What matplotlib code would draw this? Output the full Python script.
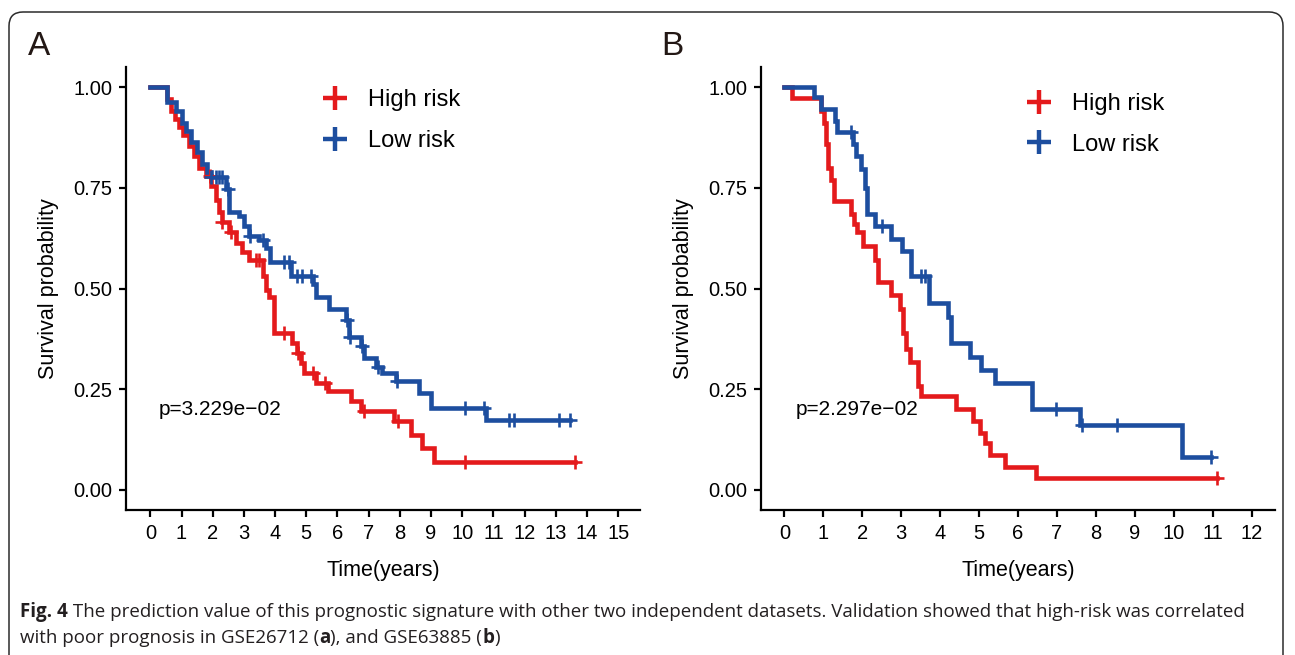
import numpy as np
import matplotlib
matplotlib.use("Agg")
import matplotlib.pyplot as plt
from matplotlib.lines import Line2D
from matplotlib.patches import FancyBboxPatch
from matplotlib.transforms import IdentityTransform

# ---------------- data ----------------
# Panel A (GSE26712)
a_high_t = [0, 0.55, 0.65, 0.8, 0.93, 1.05, 1.25, 1.4, 1.57, 1.8, 1.95, 2.1, 2.2, 2.3, 2.53,
            2.75, 2.95, 3.17, 3.6, 3.7, 3.8, 3.95, 4.55, 4.7, 4.83, 4.94, 5.3, 5.7, 6.45, 6.77,
            7.8, 8.36, 8.7, 9.1]
a_high_s = [1.0, 0.97, 0.94, 0.92, 0.90, 0.88, 0.853, 0.83, 0.80, 0.78, 0.755, 0.72, 0.69, 0.665,
            0.64, 0.614, 0.59, 0.572, 0.53, 0.497, 0.48, 0.39, 0.365, 0.34, 0.315, 0.29, 0.265,
            0.245, 0.22, 0.195, 0.17, 0.137, 0.105, 0.07]
a_high_end = 13.6
a_high_cens = [1.9, 2.3, 2.6, 3.4, 3.5, 4.3, 4.75, 5.2, 5.6, 6.85, 7.95, 10.1, 13.6]

a_low_t = [0, 0.55, 0.83, 1.0, 1.15, 1.3, 1.5, 1.67, 1.83, 1.95, 2.43, 2.53, 2.85, 3.0, 3.17,
           3.5, 3.7, 3.85, 4.5, 5.2, 5.31, 5.74, 6.27, 6.38, 6.75, 6.86, 7.23, 7.44, 7.87, 8.62,
           9.0, 10.76]
a_low_s = [1.0, 0.963, 0.94, 0.91, 0.89, 0.863, 0.84, 0.81, 0.79, 0.776, 0.746, 0.69, 0.68,
           0.655, 0.63, 0.62, 0.60, 0.565, 0.53, 0.51, 0.48, 0.448, 0.423, 0.38, 0.356, 0.328,
           0.306, 0.29, 0.27, 0.24, 0.204, 0.174]
a_low_end = 13.45
a_low_cens = [1.95, 2.1, 2.2, 2.3, 2.5, 3.2, 3.6, 4.3, 4.45, 4.7, 4.85, 5.15, 6.3, 6.4, 6.8,
              7.3, 7.9, 10.1, 10.7, 11.5, 11.65, 13.1, 13.45]

# Panel B (GSE63885)
b_high_t = [0, 0.2, 0.95, 1.02, 1.08, 1.13, 1.2, 1.28, 1.7, 1.8, 1.87, 2.03, 2.33, 2.41, 2.74,
            2.97, 3.05, 3.13, 3.23, 3.43, 3.52, 4.4, 4.85, 5.02, 5.15, 5.28, 5.66, 6.45]
b_high_s = [1.0, 0.973, 0.94, 0.91, 0.858, 0.80, 0.77, 0.717, 0.684, 0.66, 0.64, 0.605, 0.572,
            0.515, 0.485, 0.45, 0.39, 0.35, 0.318, 0.257, 0.232, 0.2, 0.17, 0.142, 0.116, 0.087,
            0.058, 0.03]
b_high_end = 11.1
b_high_cens = [11.1]

b_low_t = [0, 0.77, 0.95, 1.3, 1.35, 1.77, 1.85, 1.97, 2.08, 2.12, 2.33, 2.74, 3.03, 3.25,
           3.72, 4.2, 4.28, 4.76, 5.04, 5.42, 6.36, 7.6, 10.22]
b_low_s = [1.0, 0.975, 0.945, 0.915, 0.888, 0.858, 0.83, 0.796, 0.75, 0.684, 0.655, 0.622,
           0.592, 0.53, 0.465, 0.43, 0.365, 0.33, 0.298, 0.265, 0.2, 0.162, 0.082]
b_low_end = 10.95
b_low_cens = [1.72, 2.5, 3.52, 3.6, 6.97, 7.65, 8.55, 10.95]

series_labels = ["High risk", "Low risk"]
pvals = ["p=3.229e\u221202", "p=2.297e\u221202"]
panel_letters = ["A", "B"]
a_xticks = list(range(0, 16))
b_xticks = list(range(0, 13))
yticks = [0.0, 0.25, 0.5, 0.75, 1.0]
ytick_labels = ["0.00", "0.25", "0.50", "0.75", "1.00"]

RED = "#E41A1C"
BLUE = "#1D4E9F"

# ---------------- figure ----------------
W, H = 1295, 655
fig = plt.figure(figsize=(W / 100, H / 100), dpi=100)
plt.rcParams["font.family"] = ["Liberation Sans", "DejaVu Sans"]


def px_axes(l, r, t, b):
    return fig.add_axes([l / W, (H - b) / H, (r - l) / W, (b - t) / H])


def draw_km(ax, t, s, end, cens, color):
    tt = list(t) + [end]
    ss = list(s) + [s[-1]]
    ax.step(tt, ss, where="post", color=color, lw=3.3, solid_joinstyle="miter", zorder=3)
    ta = np.array(t)
    sa = np.array(s)
    idx = np.searchsorted(ta, np.array(cens), side="right") - 1
    ax.plot(cens, sa[idx], ls="none", marker="+", ms=10, mew=1.9, color=color, zorder=4)


def style(ax, xlim, xticks):
    ax.set_xlim(*xlim)
    ax.set_ylim(-0.05, 1.05)
    for sp in ["top", "right"]:
        ax.spines[sp].set_visible(False)
    for sp in ["left", "bottom"]:
        ax.spines[sp].set_linewidth(1.6)
        ax.spines[sp].set_color("black")
    ax.set_xticks(xticks)
    ax.set_xticklabels([str(v) for v in xticks])
    ax.set_yticks(yticks)
    ax.set_yticklabels(ytick_labels)
    ax.tick_params(axis="both", direction="out", length=5, width=1.6, color="black",
                   labelsize=14.5, labelcolor="black", pad=5)
    ax.set_xlabel("Time(years)", fontsize=15.5, labelpad=12)
    ax.set_ylabel("Survival probability", fontsize=15.5, labelpad=10)
    ax.set_facecolor("white")


axA = px_axes(126, 640, 67, 510)
axB = px_axes(761, 1275, 67, 510)

draw_km(axA, a_high_t, a_high_s, a_high_end, a_high_cens, RED)
draw_km(axA, a_low_t, a_low_s, a_low_end, a_low_cens, BLUE)
draw_km(axB, b_high_t, b_high_s, b_high_end, b_high_cens, RED)
draw_km(axB, b_low_t, b_low_s, b_low_end, b_low_cens, BLUE)

style(axA, (-0.78, 15.7), a_xticks)
style(axB, (-0.6, 12.6), b_xticks)

for ax, p in zip([axA, axB], pvals):
    ax.text(0.28, 0.2, p, fontsize=15, va="center", ha="left")

handles = [Line2D([], [], ls="none", marker="+", ms=17, mew=3.2, color=RED),
           Line2D([], [], ls="none", marker="+", ms=17, mew=3.2, color=BLUE)]
for ax, anchor in zip([axA, axB], [(0.36, 0.971), (0.494, 0.963)]):
    ax.legend(handles, series_labels, loc="upper left", bbox_to_anchor=anchor,
              frameon=False, fontsize=17, handlelength=1.2, handletextpad=0.8,
              labelspacing=0.8, borderaxespad=0.0)

# panel letters
fig.text(28 / W, 1 - 55 / H, "A", fontsize=24, va="baseline", ha="left", color="#231815")
fig.text(661 / W, 1 - 55 / H, "B", fontsize=24, va="baseline", ha="left", color="#231815")

# frame
frame = FancyBboxPatch((9, -30), 1283 - 9, (H - 12) + 30,
                       boxstyle="round,pad=0,rounding_size=14", transform=IdentityTransform(),
                       fill=False, ec="#2b2b2b", lw=1.1)
fig.patches.append(frame)

# caption
fig.canvas.draw()
renderer = fig.canvas.get_renderer()


def rich_line(x_px, y_px, pieces, size=13.5):
    x = x_px
    for txt, bold in pieces:
        t = fig.text(x / W, 1 - y_px / H, txt, fontsize=size, family=["Open Sans", "DejaVu Sans"],
                     fontweight="bold" if bold else "normal", va="baseline", ha="left",
                     color="#231f20")
        bb = t.get_window_extent(renderer=renderer)
        x += bb.width


rich_line(20, 617, [("Fig. 4", True),
                    (" The prediction value of this prognostic signature with other two independent datasets. Validation showed that high-risk was correlated", False)])
rich_line(20, 643, [("with poor prognosis in GSE26712 (", False), ("a", True),
                    ("), and GSE63885 (", False), ("b", True), (")", False)])

fig.savefig("out.png", dpi=100, facecolor="white")
